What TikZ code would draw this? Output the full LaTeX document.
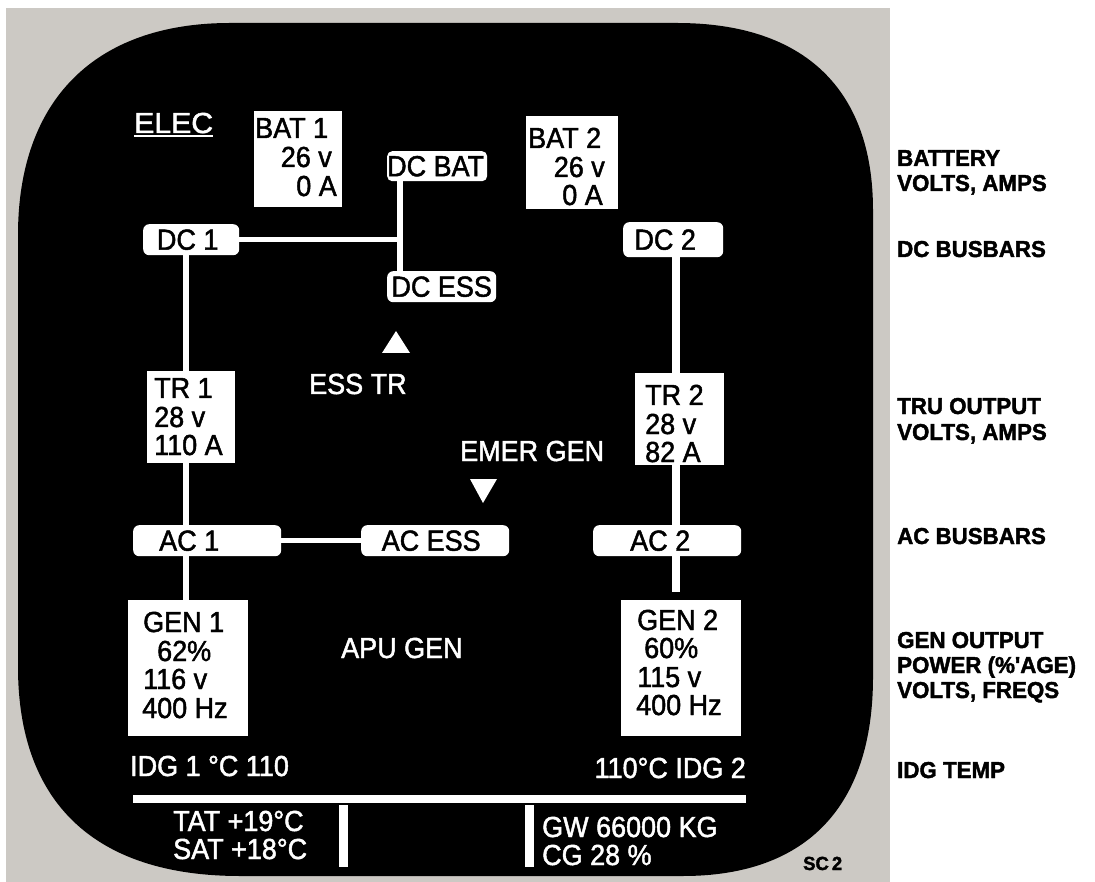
\documentclass[tikz,border=0pt]{standalone}
\usepackage{fontspec}
\setmainfont{Liberation Sans}
\newfontfamily\mainfam{Liberation Sans}[FakeBold=1.6, FakeStretch=0.93]
\newfontfamily\lblfam{Liberation Sans}[FakeBold=1.8, FakeStretch=0.97]
\usetikzlibrary{calc}
\definecolor{panelgray}{RGB}{204,201,196}
\newcommand\mainf{\mainfam\fontsize{29}{29}\selectfont}
\newcommand\lblf{\lblfam\bfseries\fontsize{23}{25}\selectfont}
\begin{document}
\begin{tikzpicture}[x=1pt,y=-1pt,
  valbox/.style={fill=white, inner sep=0pt, anchor=north west},
  bus/.style={fill=white, rounded corners=6pt, inner sep=0pt, anchor=north west, font=\mainf, text=black},
  wt/.style={text=white, font=\mainf, inner sep=0pt, anchor=base west},
  wte/.style={wt, anchor=base east},
  bt/.style={text=black, font=\mainf, inner sep=0pt, anchor=base west},
  bte/.style={bt, anchor=base east},
  lbl/.style={text=black, font=\lblf, inner sep=0pt, anchor=base west},
  wire/.style={draw=white, line width=5.5pt},
  wireR/.style={draw=white, line width=8.5pt},
  tri/.style={fill=white},
]
\useasboundingbox (0,0) rectangle (1095,882);
\fill[white] (0,0) rectangle (1095,882);
% panel
\fill[panelgray] (6,8) rectangle (890,882);
% display face
\fill[black] (18,235) .. controls (18,100) and (95,23) .. (230,23)
  -- (677,23) .. controls (805,23) and (873,90) .. (873,210)
  -- (873,677) .. controls (873,806) and (807,876) .. (683,876)
  -- (240,876) .. controls (95,876) and (18,803) .. (18,667) -- cycle;

% column coordinates
\coordinate (colL) at (186,0);
\coordinate (colM) at (400,0);
\coordinate (colR) at (676,0);

% title
\node[wt] (elec) at (134,133) {\scalebox{1.12}[1]{ELEC}};
\draw[white, line width=2pt] ([yshift=-3pt]elec.base west) -- ([yshift=-3pt]elec.base east);

% battery boxes
\node[valbox, minimum width=88pt, minimum height=96pt] (bat1) at (254,111) {};
\node[bt] (bat1a) at (255,138) {BAT 1};
\node[bte] (bat1b) at (332,167) {26 v};
\node[bte] (bat1c) at (337,196) {0 A};

\node[valbox, minimum width=92pt, minimum height=93pt] (bat2) at (526,116) {};
\node[bt] (bat2a) at (528,148) {BAT 2};
\node[bte] (bat2b) at (605,177) {26 v};
\node[bte] (bat2c) at (603,205) {0 A};

% DC busbars
\node[bus, rounded corners=5pt, minimum width=96pt, minimum height=30pt] (dcbat) at (387,151) {DC BAT\hspace*{3pt}};
\node[bus, minimum width=109pt, minimum height=31pt] (dcess) at (387,271) {DC ESS};
\node[bus, minimum width=96pt, minimum height=31pt] (dc1) at (143,224) {DC 1\hspace*{7pt}};
\node[bus, minimum width=100pt, minimum height=35pt] (dc2) at (623,222) {DC 2\hspace*{16pt}};

% TR boxes
\node[valbox, minimum width=88pt, minimum height=92pt] (tr1) at (147,371) {};
\node[bt] (tr1a) at (154,398) {TR 1};
\node[bt] (tr1b) at (154,427) {28 v};
\node[bt] (tr1c) at (154,455) {110 A};

\node[valbox, minimum width=89pt, minimum height=92pt] (tr2) at (635,373) {};
\node[bt] (tr2a) at (645,405) {TR 2};
\node[bt] (tr2b) at (645,434) {28 v};
\node[bt] (tr2c) at (645,462) {82 A};

% AC busbars
\node[bus, minimum width=148pt, minimum height=31pt] (ac1) at (133,525) {AC 1\hspace*{36pt}};
\node[bus, minimum width=148pt, minimum height=31pt] (acess) at (361,525) {AC ESS\hspace*{8pt}};
\node[bus, minimum width=148pt, minimum height=31pt] (ac2) at (593,525) {AC 2\hspace*{14pt}};

% generator boxes
\node[valbox, minimum width=120pt, minimum height=136pt] (gen1) at (128,600) {};
\node[bt] (gen1a) at (143,632) {GEN 1};
\node[bt] (gen1b) at (157,661) {62\%};
\node[bt] (gen1c) at (143,689) {116 v};
\node[bt] (gen1d) at (142,718) {400 Hz};

\node[valbox, minimum width=120pt, minimum height=136pt] (gen2) at (621,600) {};
\node[bt] (gen2a) at (637,630) {GEN 2};
\node[bt] (gen2b) at (644,658) {60\%};
\node[bt] (gen2c) at (637,687) {115 v};
\node[bt] (gen2d) at (636,715) {400 Hz};

% free labels
\node[wt] (esstr) at (309,394) {ESS TR};
\node[wt] (emergen) at (460,461) {EMER GEN};
\node[wt] (apugen) at (341,658) {APU GEN};
\node[wt] (idg1) at (130,776) {IDG 1 °C 110};
\node[wte] (idg2) at (746,778) {110°C IDG 2};
\node[wt] (tat) at (173,831) {TAT +19°C};
\node[wt] (sat) at (173,859) {SAT +18°C};
\node[wt] (gw) at (542,837) {GW 66000 KG};
\node[wt] (cg) at (542,865) {CG 28 \%};

% triangles
\fill[tri] (396,331) -- (410,353) -- (382,353) -- cycle;
\fill[tri] (470,479) -- (497,479) -- (483,503) -- cycle;

% connectors left
\draw[wire] (dc1.south -| colL) -- (tr1.north -| colL);
\draw[wire] (tr1.south -| colL) -- (ac1.north -| colL);
\draw[wire] (ac1.south -| colL) -- (gen1.north -| colL);
\draw[wire] (dc1.east) -- (dc1.east -| colM);
\draw[wire] (dcbat.south -| colM) -- (dcess.north -| colM);
\draw[wire] (ac1.east) -- (acess.west);
% connectors right
\draw[wireR] (dc2.south -| colR) -- (tr2.north -| colR);
\draw[wireR] (tr2.south -| colR) -- (ac2.north -| colR);
\draw[wireR] (ac2.south -| colR) -- ([yshift=8pt]gen2.north -| colR);

% bottom frame lines
\coordinate (hl) at (133,799);
\coordinate (hr) at (746,799);
\coordinate (v1t) at (343.5,805);
\coordinate (v1b) at (343.5,867);
\coordinate (v2t) at (529.5,805);
\coordinate (v2b) at (529.5,867);
\draw[white, line width=8pt] (hl) -- (hr);
\draw[white, line width=8.5pt] (v1t) -- (v1b);
\draw[white, line width=9pt] (v2t) -- (v2b);

% SC 2 mark
\node[text=black, font=\lblfam\bfseries\fontsize{19}{20}\selectfont, inner sep=0pt, anchor=base west] (sc2) at (803,870) {SC\,2};

% side labels
\node[lbl] (l1) at (897,166) {BATTERY};
\node[lbl] (l2) at (897,191) {VOLTS, AMPS};
\node[lbl] (l3) at (897,257) {DC BUSBARS};
\node[lbl] (l4) at (897,414) {TRU OUTPUT};
\node[lbl] (l5) at (897,440) {VOLTS, AMPS};
\node[lbl] (l6) at (897,544) {AC BUSBARS};
\node[lbl] (l7) at (897,648) {GEN OUTPUT};
\node[lbl] (l8) at (897,673) {POWER (\%'AGE)};
\node[lbl] (l9) at (897,698) {VOLTS, FREQS};
\node[lbl] (l10) at (897,778) {IDG TEMP};
\end{tikzpicture}
\end{document}
